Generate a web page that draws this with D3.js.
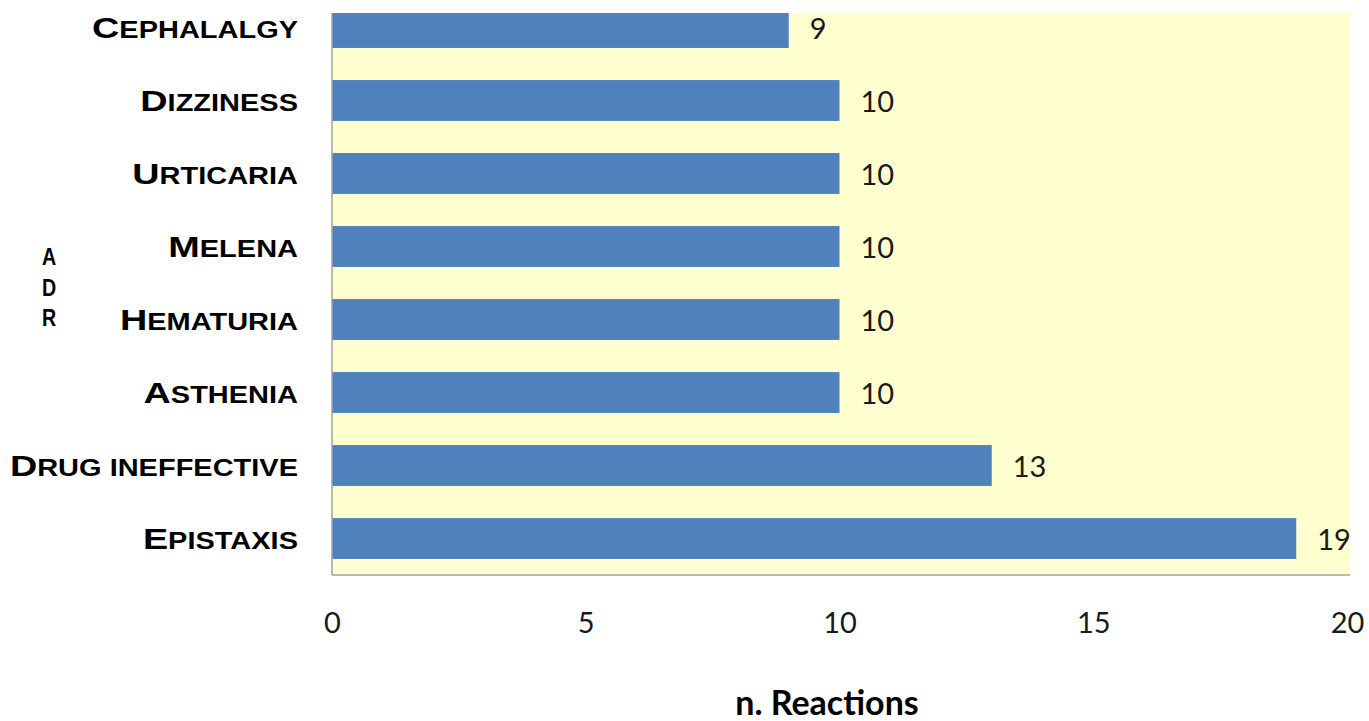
<!DOCTYPE html>
<html>
<head>
<meta charset="utf-8">
<script src="https://cdn.jsdelivr.net/npm/d3@7"></script>
<style>
  html, body { margin: 0; padding: 0; background: #ffffff; }
  svg { display: block; }
</style>
</head>
<body>
<svg id="chart" width="1369" height="721"></svg>
<script>
// Adverse drug reactions, top to bottom
const categories = ["Cephalalgy", "Dizziness", "Urticaria", "Melena", "Hematuria", "Asthenia", "Drug ineffective", "Epistaxis"];
const reactions = [9, 10, 10, 10, 10, 10, 13, 19];
const xTicks = [0, 5, 10, 15, 20];
const xTitle = "n. Reactions";
const yTitle = ["A", "D", "R"];

const svg = d3.select("#chart");
const plot = { left: 332, right: 1350, top: 13, bottom: 575 };

const x = d3.scaleLinear().domain([0, 20]).range([332, 1347]);
const y = d3.scaleBand().domain(categories).range([-9, plot.bottom])
  .paddingInner(0.44).paddingOuter(0.22);

// plot background, clipped at the top edge
svg.append("defs").append("clipPath").attr("id", "plotClip")
  .append("rect")
  .attr("x", plot.left).attr("y", plot.top)
  .attr("width", plot.right - plot.left).attr("height", plot.bottom - plot.top);

svg.append("rect")
  .attr("x", plot.left).attr("y", plot.top)
  .attr("width", plot.right - plot.left).attr("height", plot.bottom - plot.top)
  .attr("fill", "#ffffd0");

const data = categories.map((c, i) => ({ cat: c, val: reactions[i] }));

const g = svg.append("g").attr("clip-path", "url(#plotClip)");
g.selectAll("rect.bar").data(data).join("rect")
  .attr("class", "bar")
  .attr("x", x(0))
  .attr("y", d => y(d.cat))
  .attr("width", d => x(d.val) - x(0))
  .attr("height", y.bandwidth())
  .attr("fill", "#4f81bd");

// value labels
g.selectAll("text.val").data(data).join("text")
  .attr("class", "val")
  .attr("x", d => x(d.val) + 21)
  .attr("y", d => y(d.cat) + y.bandwidth() / 2 + 11)
  .attr("font-family", "Lato, 'Open Sans', sans-serif")
  .attr("font-size", 29)
  .attr("fill", "#1a1a1a")
  .text(d => d.val);

// axis lines (left and bottom)
svg.append("line")
  .attr("x1", plot.left).attr("x2", plot.left)
  .attr("y1", plot.top).attr("y2", plot.bottom)
  .attr("stroke", "#a0a0a0").attr("stroke-width", 1.5);
svg.append("line")
  .attr("x1", plot.left).attr("x2", plot.right)
  .attr("y1", plot.bottom).attr("y2", plot.bottom)
  .attr("stroke", "#a0a0a0").attr("stroke-width", 1.5);

// x axis tick labels
const xAxis = d3.axisBottom(x).tickValues(xTicks).tickSize(0).tickPadding(0);
const xg = svg.append("g").attr("transform", `translate(0, ${plot.bottom})`).call(xAxis);
xg.select(".domain").remove();
xg.selectAll("text")
  .attr("dy", null)
  .attr("y", 58)
  .attr("font-family", "Lato, 'Open Sans', sans-serif")
  .attr("font-size", 29)
  .attr("fill", "#1a1a1a");

// category labels in small capitals
const labelX = 298;
const cats = svg.append("g");
categories.forEach(c => {
  const t = cats.append("text")
    .attr("text-anchor", "end")
    .attr("font-family", "'Liberation Sans', Arial, sans-serif")
    .attr("font-weight", "bold")
    .attr("fill", "#000")
    .attr("transform", `translate(${labelX}, ${y(c) + y.bandwidth() / 2 + 10.5}) scale(1.26, 1)`);
  c.split(" ").forEach((word, wi) => {
    if (wi > 0) t.append("tspan").attr("font-size", 23).text(" ");
    if (wi === 0) {
      t.append("tspan").attr("font-size", 30).text(word[0].toUpperCase());
      t.append("tspan").attr("font-size", 23).text(word.slice(1).toUpperCase());
    } else {
      t.append("tspan").attr("font-size", 23).text(word.toUpperCase());
    }
  });
});

// vertical axis title, stacked letters
svg.append("g").selectAll("text").data(yTitle).join("text")
  .attr("transform", (d, i) => `translate(49, ${265 + i * 30.5}) scale(0.82, 1)`)
  .attr("text-anchor", "middle")
  .attr("font-family", "'Liberation Sans', Arial, sans-serif")
  .attr("font-weight", "bold")
  .attr("font-size", 24)
  .attr("fill", "#000")
  .text(d => d);

// x axis title
svg.append("text")
  .attr("x", 827)
  .attr("y", 715)
  .attr("text-anchor", "middle")
  .attr("font-family", "Lato, 'Open Sans', sans-serif")
  .attr("font-weight", "bold")
  .attr("font-size", 34)
  .attr("fill", "#000")
  .text(xTitle);
</script>
</body>
</html>
